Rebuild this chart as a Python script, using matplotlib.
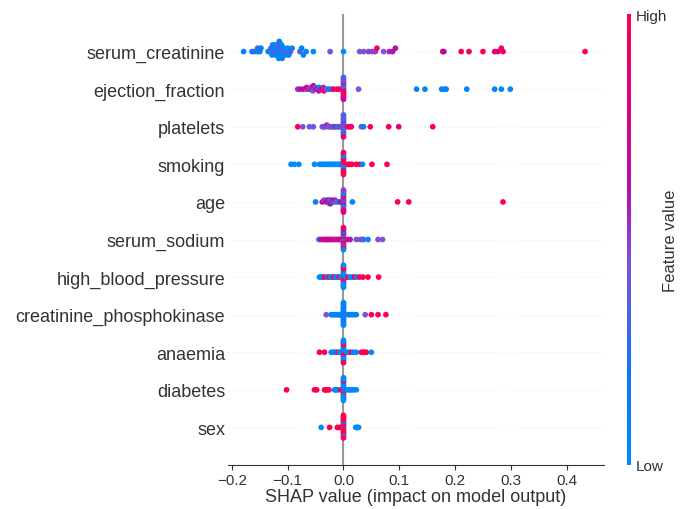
import matplotlib.pyplot as plt
import numpy as np
from matplotlib.colors import LinearSegmentedColormap

plt.rcParams["font.family"] = ["Liberation Sans", "DejaVu Sans"]

# feature names, top to bottom
features = [
    "serum_creatinine", "ejection_fraction", "platelets", "smoking", "age",
    "serum_sodium", "high_blood_pressure", "creatinine_phosphokinase",
    "anaemia", "diabetes", "sex",
]

# shap values and (normalised) feature values
serum_creatinine_shap = [
    -0.179, -0.164, -0.160, -0.154, -0.154, -0.150, -0.148,
    -0.135, -0.132, -0.130, -0.128, -0.127, -0.125, -0.124, -0.122, -0.121, -0.120,
    -0.119, -0.118, -0.117, -0.116, -0.115, -0.114, -0.113, -0.112, -0.111, -0.110,
    -0.108, -0.106, -0.104, -0.102, -0.100, -0.098, -0.095, -0.092,
    -0.078, -0.075, -0.072, -0.067, -0.054, -0.024, 0.0,
    0.029, 0.036, 0.045, 0.052, 0.057, 0.060, 0.072, 0.082, 0.088, 0.093,
    0.178, 0.180, 0.211, 0.225, 0.250, 0.271, 0.277, 0.283, 0.286, 0.433,
]
serum_creatinine_val = [
    0.05, 0.05, 0.3, 0.1, 0.3, 0.1, 0.2,
    0.1, 0.05, 0.35, 0.1, 0.05, 0.4, 0.1, 0.15, 0.05, 0.3,
    0.1, 0.05, 0.4, 0.1, 0.15, 0.05, 0.35, 0.1, 0.05, 0.1,
    0.4, 0.05, 0.1, 0.3, 0.05, 0.1, 0.35, 0.05,
    0.35, 0.1, 0.05, 0.05, 0.05, 0.4, 0.0,
    0.45, 0.45, 0.5, 0.5, 0.5, 0.95, 0.45, 0.55, 0.6, 0.65,
    0.65, 0.7, 0.95, 0.9, 1.0, 0.85, 0.8, 0.95, 0.9, 1.0,
]

ejection_fraction_shap = [
    -0.082, -0.078, -0.072, -0.066, -0.066, -0.062, -0.058, -0.058, -0.056, -0.055,
    -0.055, -0.054, -0.050, -0.050, -0.049, -0.045, -0.044, -0.044, -0.040, -0.038,
    -0.036, -0.035, -0.030, -0.026, -0.022, -0.018, -0.012, -0.008,
    0.0, 0.0, 0.0, 0.0, 0.0, 0.0, 0.0, 0.0, 0.0, 0.0, 0.0, 0.0, 0.0, 0.0,
    0.027, 0.131, 0.146, 0.176, 0.181, 0.184, 0.221, 0.271, 0.283, 0.299,
]
ejection_fraction_val = [
    0.5, 0.6, 0.7, 0.45, 0.8, 0.5, 0.65, 0.4, 0.9, 0.55,
    0.45, 0.75, 0.5, 0.35, 0.6, 0.45, 0.2, 0.7, 0.5, 0.85,
    0.55, 0.95, 0.4, 0.3, 0.15, 0.9, 1.0, 0.95,
    0.9, 0.5, 1.0, 0.4, 0.8, 0.2, 0.95, 0.6, 1.0, 0.45, 0.85, 0.5, 0.7, 0.3,
    0.45, 0.1, 0.1, 0.1, 0.05, 0.1, 0.05, 0.1, 0.05, 0.05,
]

platelets_shap = [
    -0.082, -0.073, -0.061, -0.054, -0.038, -0.035, -0.032, -0.030, -0.027, -0.024,
    -0.021, -0.018, -0.015, -0.012, -0.009, -0.006, -0.004,
    0.0, 0.0, 0.0, 0.0, 0.0, 0.0, 0.0, 0.0, 0.0, 0.0, 0.0, 0.0, 0.0, 0.0,
    0.008, 0.011, 0.014, 0.032, 0.036, 0.048, 0.081, 0.099, 0.160,
]
platelets_val = [
    1.0, 0.45, 0.45, 0.4, 0.45, 0.5, 0.4, 0.55, 0.45, 0.35,
    0.5, 0.4, 0.6, 0.1, 0.45, 0.05, 0.5,
    0.45, 0.1, 0.5, 0.4, 0.05, 0.55, 0.45, 0.2, 0.5, 0.4, 0.1, 0.45, 0.9, 0.35,
    0.95, 1.0, 0.9, 0.45, 0.1, 1.0, 0.95, 0.8, 1.0,
]

smoking_shap = [
    -0.094, -0.088, -0.080, -0.052, -0.043, -0.040, -0.036, -0.033, -0.030, -0.027,
    -0.024, -0.021, -0.018, -0.015, -0.012, -0.009, -0.006,
    0.0, 0.0, 0.0, 0.0, 0.0, 0.0, 0.0, 0.0, 0.0, 0.0, 0.0, 0.0, 0.0, 0.0,
    0.008, 0.011, 0.015, 0.023, 0.029, 0.034, 0.051, 0.078,
]
smoking_val = [
    0, 0, 0, 0, 0, 0, 0, 0, 0, 0,
    0, 0, 0, 0, 0, 0, 0,
    1, 0, 1, 1, 0, 1, 0, 1, 1, 0, 1, 0, 1, 1,
    1, 1, 1, 1, 1, 0, 1, 1,
]

age_shap = [
    -0.050, -0.038, -0.035, -0.031, -0.029, -0.027, -0.027, -0.025, -0.024, -0.024,
    -0.023, -0.021, -0.020, -0.018, -0.015, -0.013, -0.009, -0.005,
    0.0, 0.0, 0.0, 0.0, 0.0, 0.0, 0.0, 0.0, 0.0, 0.0, 0.0, 0.0, 0.0, 0.0,
    0.016, 0.097, 0.117, 0.286,
]
age_val = [
    0.1, 0.7, 0.5, 0.8, 0.6, 0.4, 0.75, 0.3, 0.65, 0.1,
    0.7, 0.5, 0.8, 0.2, 0.6, 0.45, 0.1, 0.7,
    0.1, 0.9, 0.5, 0.2, 0.8, 0.6, 0.05, 0.95, 0.45, 0.3, 0.7, 0.1, 0.85, 0.5,
    0.05, 1.0, 0.95, 1.0,
]

serum_sodium_shap = [
    -0.044, -0.040, -0.036, -0.033, -0.030, -0.028, -0.025, -0.022, -0.019, -0.016,
    -0.013, -0.010, -0.007, -0.004,
    0.0, 0.0, 0.0, 0.0, 0.0, 0.0, 0.0, 0.0, 0.0, 0.0, 0.0, 0.0, 0.0, 0.0,
    0.008, 0.012, 0.023, 0.030, 0.033, 0.036, 0.044, 0.062, 0.070,
]
serum_sodium_val = [
    0.05, 0.7, 0.85, 0.6, 0.75, 0.9, 0.65, 0.8, 0.7, 0.55,
    0.9, 0.6, 0.75, 0.85,
    1.0, 0.7, 0.05, 0.9, 0.6, 0.1, 1.0, 0.8, 0.5, 0.05, 0.95, 0.7, 0.1, 0.9,
    0.9, 0.6, 0.45, 0.4, 0.45, 0.35, 0.05, 0.45, 0.45,
]

high_blood_pressure_shap = [
    -0.043, -0.040, -0.037, -0.034, -0.029, -0.026, -0.023, -0.020, -0.017, -0.014,
    -0.011, -0.008, -0.005,
    0.0, 0.0, 0.0, 0.0, 0.0, 0.0, 0.0, 0.0, 0.0, 0.0, 0.0, 0.0, 0.0, 0.0,
    0.005, 0.008, 0.012, 0.016, 0.020, 0.024, 0.029, 0.035, 0.044, 0.063,
]
high_blood_pressure_val = [
    0, 0, 0, 1, 0, 1, 0, 0, 1, 0,
    0, 1, 0,
    0, 1, 0, 0, 1, 0, 1, 0, 0, 1, 0, 1, 0, 0,
    0, 1, 0, 0, 1, 0, 1, 1, 1, 1,
]

creatinine_phosphokinase_shap = [
    -0.031, -0.022, -0.019, -0.016, -0.013, -0.010, -0.008, -0.006, -0.004, -0.002,
    0.0, 0.0, 0.0, 0.0, 0.0, 0.0, 0.0, 0.0, 0.0, 0.0, 0.0, 0.0, 0.0, 0.0, 0.0, 0.0,
    0.008, 0.011, 0.015, 0.019, 0.023, 0.039, 0.050, 0.062, 0.076,
]
creatinine_phosphokinase_val = [
    0.45, 0.1, 0.05, 0.1, 0.05, 0.1, 0.05, 0.1, 0.05, 0.1,
    0.05, 0.1, 0.15, 0.05, 0.3, 0.1, 0.05, 0.1, 0.15, 0.05, 0.3, 0.1, 0.05, 0.1, 0.05, 0.1,
    0.05, 0.1, 0.05, 0.1, 0.05, 0.45, 1.0, 1.0, 1.0,
]

anaemia_shap = [
    -0.043, -0.034, -0.022, -0.019, -0.016, -0.013, -0.010, -0.007, -0.004,
    0.0, 0.0, 0.0, 0.0, 0.0, 0.0, 0.0, 0.0, 0.0, 0.0, 0.0, 0.0, 0.0, 0.0, 0.0, 0.0,
    0.006, 0.010, 0.014, 0.018, 0.023, 0.032, 0.035, 0.038, 0.041, 0.050,
]
anaemia_val = [
    1, 1, 0, 0, 0, 0, 1, 0, 0,
    0, 1, 0, 0, 1, 0, 1, 0, 0, 1, 0, 1, 0, 0, 1, 0,
    0, 0, 1, 0, 0, 1, 1, 1, 1, 0,
]

diabetes_shap = [
    -0.102, -0.052, -0.048, -0.034, -0.032, -0.029, -0.026, -0.016, -0.013, -0.011, -0.005,
    0.0, 0.0, 0.0, 0.0, 0.0, 0.0, 0.0, 0.0, 0.0, 0.0, 0.0, 0.0, 0.0, 0.0, 0.0, 0.0,
    0.008, 0.011, 0.014, 0.018, 0.023,
]
diabetes_val = [
    1, 1, 1, 1, 1, 1, 1, 0, 0, 0, 1,
    0, 0, 1, 0, 0, 0, 1, 0, 0, 0, 0, 1, 0, 0, 0, 0,
    0, 0, 0, 0, 0,
]

sex_shap = [
    -0.040, -0.025, -0.011, -0.008, -0.004,
    0.0, 0.0, 0.0, 0.0, 0.0, 0.0, 0.0, 0.0, 0.0, 0.0, 0.0, 0.0, 0.0, 0.0, 0.0, 0.0,
    0.022, 0.024, 0.027,
]
sex_val = [
    0, 1, 1, 1, 1,
    1, 1, 0, 1, 1, 1, 1, 0, 1, 1, 1, 1, 0, 1, 1, 1,
    0, 0, 0,
]

shap_values = [
    serum_creatinine_shap, ejection_fraction_shap, platelets_shap, smoking_shap,
    age_shap, serum_sodium_shap, high_blood_pressure_shap,
    creatinine_phosphokinase_shap, anaemia_shap, diabetes_shap, sex_shap,
]
feature_values = [
    serum_creatinine_val, ejection_fraction_val, platelets_val, smoking_val,
    age_val, serum_sodium_val, high_blood_pressure_val,
    creatinine_phosphokinase_val, anaemia_val, diabetes_val, sex_val,
]

# shap-like red/blue colormap
red_blue = LinearSegmentedColormap.from_list("red_blue", [
    (0.0, (0.0, 0.545, 0.984)),
    (0.2, (0.05, 0.47, 0.96)),
    (0.45, (0.50, 0.32, 0.84)),
    (0.62, (0.71, 0.05, 0.68)),
    (0.8, (0.86, 0.0, 0.50)),
    (1.0, (1.0, 0.0, 0.318)),
])


def beeswarm_offsets(shaps, row_height=0.4, nbins=100):
    # same binning/layering idea that shap uses for its summary plot
    shaps = np.asarray(shaps, dtype=float)
    quant = np.round(nbins * (shaps - shaps.min()) / (shaps.max() - shaps.min() + 1e-8))
    inds = np.argsort(quant, kind="stable")
    ys = np.zeros(len(shaps))
    layer, last_bin = 0, -1
    for ind in inds:
        if quant[ind] != last_bin:
            layer = 0
        ys[ind] = np.ceil(layer / 2) * ((layer % 2) * 2 - 1)
        layer += 1
        last_bin = quant[ind]
    ys *= 0.9 * (row_height / np.max(ys + 1))
    return ys


fig = plt.figure(figsize=(6.88, 5.10), dpi=100)
ax = fig.add_axes([228 / 688, 1 - 466 / 510, 376 / 688, 451 / 510])

n = len(features)
ax.axvline(0, color="#999999", zorder=-1)
for i, (shaps, vals) in enumerate(zip(shap_values, feature_values)):
    pos = n - 1 - i
    ax.axhline(pos, color="#cccccc", lw=0.5, dashes=(1, 5), zorder=-1)
    ys = beeswarm_offsets(shaps)
    sc = ax.scatter(shaps, pos + ys, c=vals, cmap=red_blue, vmin=0, vmax=1,
                    s=17, linewidth=0, alpha=1, zorder=3)

ax.set_ylim(-1, n)
ax.set_xlim(-0.207, 0.467)
ax.set_yticks(range(n))
ax.set_yticklabels(features[::-1], fontsize=13, color="#333333")
ax.xaxis.set_ticks_position("bottom")
for side in ["left", "right", "top"]:
    ax.spines[side].set_visible(False)
ax.spines["bottom"].set_color("#333333")
ax.tick_params(axis="x", labelsize=11, color="#333333", labelcolor="#333333", pad=2)
ax.tick_params(axis="y", length=0, pad=2)
ax.set_xticks([-0.2, -0.1, 0.0, 0.1, 0.2, 0.3, 0.4])
ax.set_xlabel("SHAP value (impact on model output)", fontsize=13, color="#333333",
              labelpad=1)

cax = fig.add_axes([627 / 688, 1 - 466 / 510, 4 / 688, 451 / 510])
cb = fig.colorbar(sc, cax=cax, ticks=[0, 1])
cb.set_ticklabels(["Low", "High"])
cb.set_label("Feature value", size=12, labelpad=-3, color="#333333")
cb.ax.tick_params(labelsize=11, length=0, labelcolor="#333333")
cb.outline.set_visible(False)

fig.savefig("out.png", dpi=100)
